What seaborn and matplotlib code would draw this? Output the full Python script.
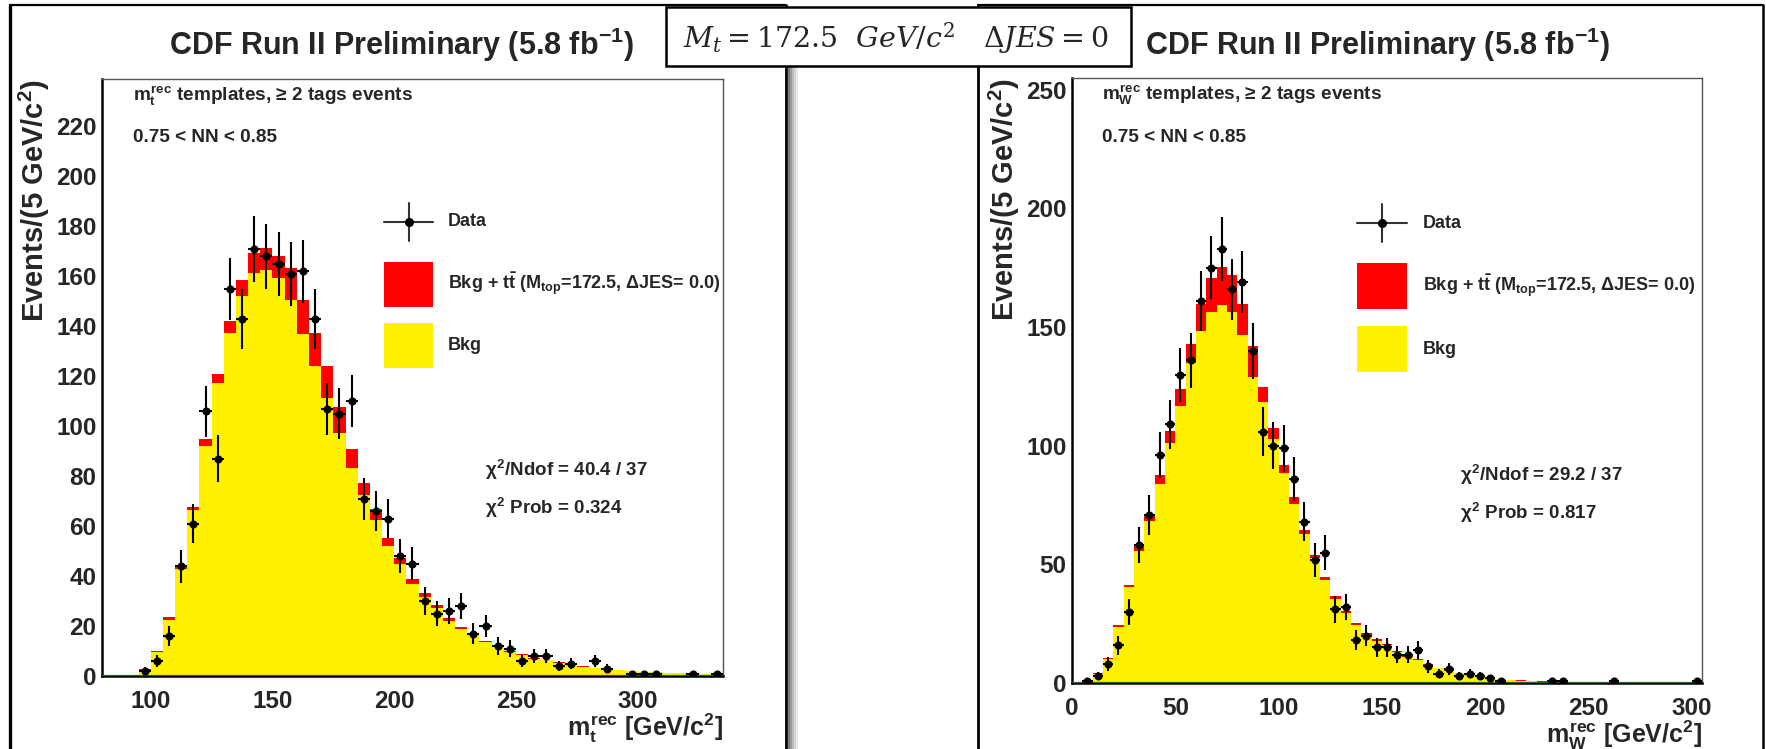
import numpy as np
import pandas as pd
import seaborn as sns
import matplotlib
matplotlib.use("Agg")
import matplotlib.pyplot as plt
from matplotlib.lines import Line2D
from matplotlib.patches import Rectangle
from matplotlib.ticker import MultipleLocator

# ---------------- m_t^rec templates (5 GeV bins, 80 - 335) ----------------
mt_edges = np.arange(80, 340, 5)
mt_total = [0, 0, 0, 3, 10, 23.5, 44, 67.7, 94.8, 120.9,
            142.3, 158.4, 169.5, 171.4, 168.1, 163.5, 150.7, 137.3, 124.2, 107.5,
            91, 77.4, 66.9, 55.3, 47.3, 38.8, 33.2, 28.5, 23.2, 19.6,
            17.3, 14.2, 12.3, 10.2, 8.7, 7.3, 6.5, 5.5, 4.6, 3.9,
            3.3, 2.8, 2.4, 2.1, 1.8, 1.6, 1.4, 1.2, 1.0, 0.8, 0.6]
mt_bkg = [0, 0, 0, 2.5, 9.5, 22.5, 43, 66.4, 92.1, 117.3,
          137.3, 152.3, 161.4, 162.4, 159.3, 150.7, 136.9, 124.2, 111.1, 97.2,
          83.4, 72.4, 62.4, 52.2, 45, 36.9, 31.6, 27.2, 22.2, 18.9,
          16.8, 13.8, 11.9, 9.8, 8.4, 7.0, 6.3, 5.3, 4.4, 3.7,
          3.1, 2.7, 2.3, 2.0, 1.7, 1.5, 1.3, 1.1, 0.95, 0.75, 0.55]
mt_data = [0, 0, 0, 2, 6, 16, 44, 61, 106, 87,
           155, 143, 171, 168, 165, 161, 162, 143, 107, 105,
           110, 71, 66, 63, 48, 45, 30, 25, 26, 28,
           17, 20, 12, 11, 6, 8, 8, 4, 5, 0,
           6, 3, 0, 1, 1, 1, 0, 0, 1, 0, 1]

# ---------------- m_W^rec templates (5 GeV bins, 0 - 305) ----------------
mw_edges = np.arange(0, 310, 5)
mw_total = [0.2, 1.3, 4.1, 10.7, 24.5, 41.1, 57.6, 70.6, 87.5, 106.3,
            123.9, 142.9, 159.8, 170.7, 175.3, 171.8, 159.8, 141.9, 124.6, 107.3,
            91.8, 78.4, 64.3, 54, 44.7, 36.5, 30.4, 25.2, 21, 18.5,
            16.5, 13.5, 11.5, 10, 8, 6.5, 5.3, 4.3, 3.5, 2.8,
            2.2, 1.8, 1.4, 1.1, 0.9, 0.7, 0.5, 0.4, 0.35, 0.3,
            0.25, 0.2, 0.18, 0.15, 0.12, 0.1, 0.1, 0.08, 0.08, 0.06, 0.06]
mw_bkg = [0.2, 1.2, 3.9, 10.0, 23.8, 40.3, 55.5, 68.2, 84, 101,
          116.9, 134.9, 148.5, 156.3, 159.4, 156.3, 146.7, 128.8, 118.3, 102.7,
          88.4, 75.3, 62.6, 52.6, 43.6, 35.5, 29.7, 24.4, 20.3, 17.9,
          16.0, 13.0, 11.0, 9.6, 7.7, 6.2, 5.0, 4.1, 3.3, 2.6,
          2.0, 1.6, 1.2, 0.95, 0.75, 0.55, 0.4, 0.35, 0.3, 0.25,
          0.2, 0.18, 0.15, 0.12, 0.1, 0.08, 0.08, 0.06, 0.06, 0.05, 0.05]
mw_data = [0, 1, 3, 8, 16, 30, 58, 71, 96, 109,
           130, 136, 161, 175, 183, 166, 169, 140, 106, 100,
           99, 86, 68, 52, 55, 31, 32, 18, 20, 15,
           15, 12, 12, 14, 7, 4, 6, 3, 4, 3,
           2, 1, 0, 0, 0, 0, 1, 1, 0, 0,
           0, 0, 1, 0, 0, 0, 0, 0, 0, 0, 1]

RED = "#FF0000"
YELLOW = "#FFF100"

sns.set_style("white")
plt.rcParams["font.family"] = ["Liberation Sans", "DejaVu Sans"]
plt.rcParams["font.weight"] = "bold"
plt.rcParams["mathtext.fontset"] = "custom"
plt.rcParams["mathtext.rm"] = "Liberation Sans:bold"
plt.rcParams["mathtext.it"] = "Liberation Sans:bold"
plt.rcParams["mathtext.bf"] = "Liberation Sans:bold"
plt.rcParams["mathtext.sf"] = "Liberation Sans:bold"

W, H = 1766, 749
fig = plt.figure(figsize=(W / 100, H / 100), dpi=100)
fig.patch.set_facecolor("white")


def fx(px):
    return px / W


def fy(py):
    return 1 - py / H


def fline(xs, ys, **kw):
    fig.add_artist(Line2D([fx(x) for x in xs], [fy(y) for y in ys],
                          transform=fig.transFigure, **kw))


def ftext(x, y, s, **kw):
    fig.text(fx(x), fy(y), s, **kw)


# ---------------- canvas frames ----------------
fline([10, 10], [5, 760], color="black", lw=2.4)
fline([10, 785], [5, 5], color="black", lw=1.6)
fline([786, 786], [5, 760], color="black", lw=2.0)
for i, g in enumerate(["#777777", "#999999", "#bbbbbb", "#d4d4d4", "#e8e8e8"]):
    fline([788.5 + 2 * i, 788.5 + 2 * i], [8, 760], color=g, lw=1.6)
fline([978, 978], [5, 760], color="black", lw=2.0)
fline([978, 1763], [5, 5], color="black", lw=1.6)
fline([1763, 1763], [5, 760], color="black", lw=1.8)


def make_axes(left, top, right, bottom):
    return fig.add_axes([fx(left), fy(bottom), fx(right) - fx(left), fy(top) - fy(bottom)])


def draw_panel(ax, edges, total, bkg, data, xlim, ylim, xmaj, xmin, ymaj, ymin):
    centers = edges[:-1] + 2.5
    hist = pd.DataFrame({"x": centers, "total": total, "bkg": bkg})
    bins = [float(e) for e in edges]
    sns.histplot(data=hist, x="x", weights="total", bins=bins, element="step", fill=True,
                 color=RED, alpha=1, linewidth=0, ax=ax)
    sns.histplot(data=hist, x="x", weights="bkg", bins=bins, element="step", fill=True,
                 color=YELLOW, alpha=1, linewidth=0, ax=ax)
    ax.plot(xlim, [0, 0], color="#1f6b1f", lw=1.6, zorder=3)

    data = np.asarray(data, dtype=float)
    keep = data > 0
    df = pd.DataFrame({"x": centers[keep], "y": data[keep]})
    ax.errorbar(df["x"], df["y"], xerr=2.5, yerr=np.sqrt(df["y"]), fmt="none",
                ecolor="black", elinewidth=1.5, capsize=0, zorder=4)
    sns.scatterplot(data=df, x="x", y="y", color="black", s=34, edgecolor="black",
                    linewidth=0, ax=ax, zorder=5)

    ax.set_xlim(*xlim)
    ax.set_ylim(*ylim)
    ax.set_xlabel("")
    ax.set_ylabel("")
    ax.xaxis.set_major_locator(MultipleLocator(xmaj))
    ax.xaxis.set_minor_locator(MultipleLocator(xmin))
    ax.yaxis.set_major_locator(MultipleLocator(ymaj))
    ax.yaxis.set_minor_locator(MultipleLocator(ymin))
    ax.tick_params(which="both", direction="in", top=False, right=False,
                   width=1.5, color="black", labelsize=17.5)
    ax.tick_params(which="major", length=13)
    ax.tick_params(which="minor", length=6.5)
    ax.tick_params(axis="x", pad=10)
    ax.tick_params(axis="y", pad=4)
    for lab in ax.get_xticklabels() + ax.get_yticklabels():
        lab.set_fontweight("bold")
    for s in ["left", "bottom"]:
        ax.spines[s].set_linewidth(1.8)
        ax.spines[s].set_color("black")
    for s in ["top", "right"]:
        ax.spines[s].set_linewidth(1.0)
        ax.spines[s].set_color("#555555")
    ax.set_facecolor("white")


ax1 = make_axes(102, 79, 723, 676)
draw_panel(ax1, mt_edges, mt_total, mt_bkg, mt_data, (80, 335), (0, 239), 50, 10, 20, 5)

ax2 = make_axes(1072, 78, 1702, 683)
draw_panel(ax2, mw_edges, mw_total, mw_bkg, mw_data, (0, 305), (0, 255), 50, 10, 50, 10)

# ---------------- titles and axis titles ----------------
title = r"CDF Run II Preliminary (5.8 fb$^{\mathregular{-1}}$)"
ftext(401, 45, title, ha="center", va="center", fontsize=22, fontweight="bold")
ftext(1377, 45, title, ha="center", va="center", fontsize=22, fontweight="bold")

ylab = r"Events/(5 GeV/c$^{2}$)"
ftext(34, 79, ylab, rotation=90, ha="center", va="top", fontsize=21, fontweight="bold")
ftext(1004, 78, ylab, rotation=90, ha="center", va="top", fontsize=21, fontweight="bold")

ftext(723, 728, r"$m_{t}^{rec}$ [GeV/c$^{2}$]", ha="right", va="center", fontsize=18, fontweight="bold")
ftext(1702, 735, r"$m_{W}^{rec}$ [GeV/c$^{2}$]", ha="right", va="center", fontsize=18, fontweight="bold")

# ---------------- in-pad annotations ----------------
ftext(133, 96, r"$m_{t}^{rec}$ templates, ≥ 2 tags events", ha="left", va="center", fontsize=13.7)
ftext(133, 137, "0.75 < NN < 0.85", ha="left", va="center", fontsize=13.7)
ftext(1102, 95, r"$m_{W}^{rec}$ templates, ≥ 2 tags events", ha="left", va="center", fontsize=13.7)
ftext(1102, 137, "0.75 < NN < 0.85", ha="left", va="center", fontsize=13.7)

ftext(485, 470, r"$\chi^{2}$/Ndof = 40.4 / 37", ha="left", va="center", fontsize=13.5)
ftext(485, 508, r"$\chi^{2}$ Prob = 0.324", ha="left", va="center", fontsize=13.5)
ftext(1460, 475, r"$\chi^{2}$/Ndof = 29.2 / 37", ha="left", va="center", fontsize=13.5)
ftext(1460, 513, r"$\chi^{2}$ Prob = 0.817", ha="left", va="center", fontsize=13.5)

# ---------------- legends ----------------
sig_label = r"Bkg + t$\bar{t}$ (M$_{top}$=172.5, ΔJES= 0.0)"


def legend(x0, x1, yd, yr0, yr1, yy0, yy1, xt):
    xc = (x0 + x1) / 2
    fline([x0, x1], [yd, yd], color="#333333", lw=1.5)
    fline([xc, xc], [yd - 19, yd + 19], color="#333333", lw=1.5)
    fig.add_artist(Line2D([fx(xc)], [fy(yd)], marker="o", markersize=5.5, color="black",
                          transform=fig.transFigure))
    fig.add_artist(Rectangle((fx(x0), fy(yr1)), fx(x1) - fx(x0), fy(yr0) - fy(yr1),
                             transform=fig.transFigure, facecolor=RED, edgecolor="none"))
    fig.add_artist(Rectangle((fx(x0), fy(yy1)), fx(x1) - fx(x0), fy(yy0) - fy(yy1),
                             transform=fig.transFigure, facecolor=YELLOW, edgecolor="none"))
    ftext(xt, yd, "Data", ha="left", va="center", fontsize=13)
    ftext(xt, (yr0 + yr1) / 2, sig_label, ha="left", va="center", fontsize=13)
    ftext(xt, (yy0 + yy1) / 2, "Bkg", ha="left", va="center", fontsize=13)


legend(384, 433, 222, 262, 307, 323, 368, 448)
legend(1357, 1407, 223, 263, 309, 326, 372, 1423)

# ---------------- parameter box ----------------
fig.add_artist(Rectangle((fx(666), fy(66)), fx(1131) - fx(666), fy(7) - fy(66),
                         transform=fig.transFigure, facecolor="white", edgecolor="black",
                         lw=1.8, zorder=10))
fig.text(fx(896), fy(38), r"$M_t = 172.5\ \ GeV/c^2\ \ \ \Delta JES = 0$",
         ha="center", va="center", fontsize=20.5, fontweight="normal",
         math_fontfamily="dejavuserif", zorder=11)

# the serif math in the box is resolved at draw time: use regular weight there
plt.rcParams["font.weight"] = "normal"
fig.savefig("out.png", dpi=100, facecolor="white")
